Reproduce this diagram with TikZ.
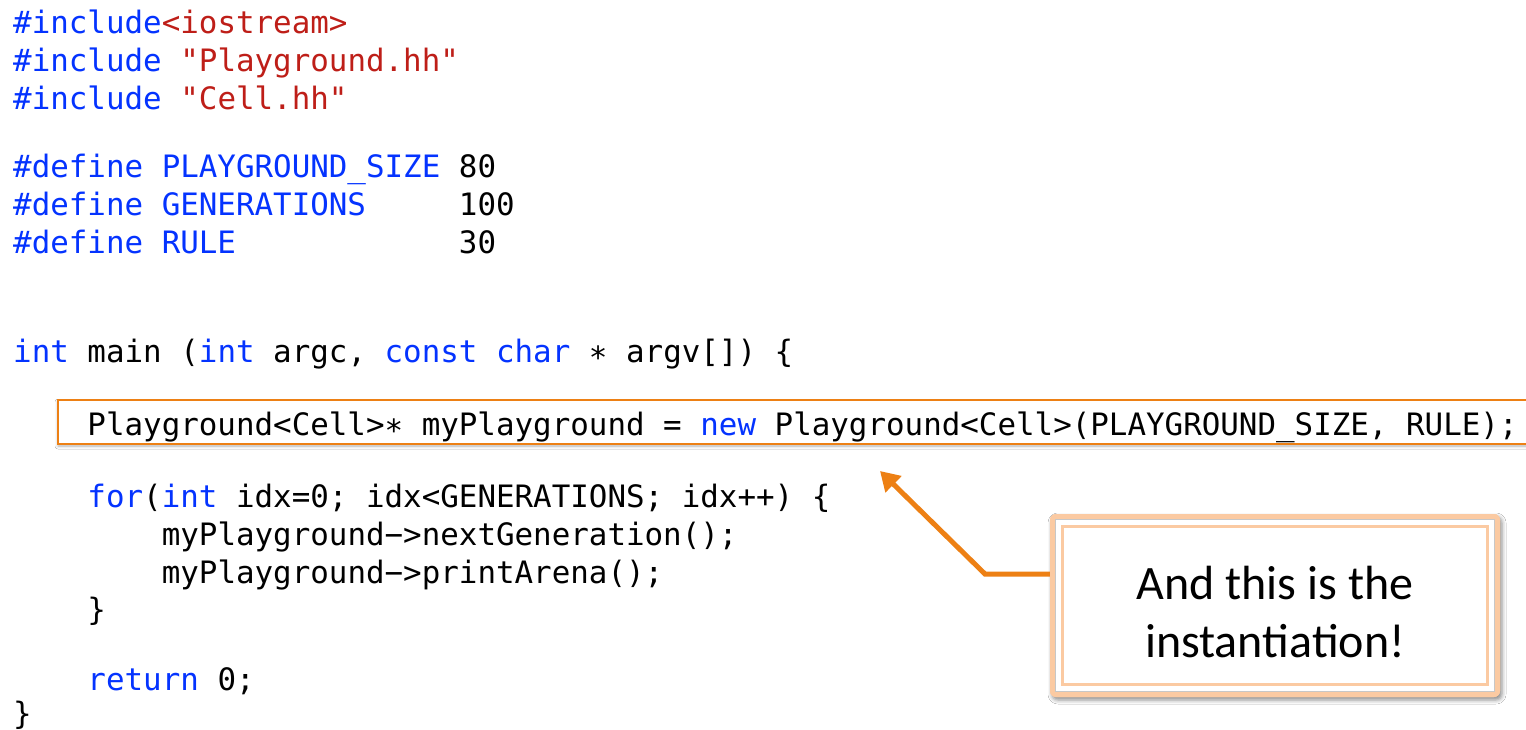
\documentclass[tikz,border=0pt]{standalone}
\usepackage{fontspec}
\setmonofont{DejaVu Sans Mono}
\newfontfamily\calloutfont{Carlito}
\usetikzlibrary{shadows.blur,arrows.meta,calc}
\definecolor{kwblue}{RGB}{4,51,255}
\definecolor{strred}{RGB}{190,30,24}
\definecolor{hlorange}{RGB}{237,128,20}
\definecolor{peach}{RGB}{251,202,162}
\newcommand\kw[1]{\textcolor{kwblue}{#1}}
\newcommand\str[1]{\textcolor{strred}{#1}}
\tikzset{
  code/.style={anchor=base west, inner sep=0pt, text=black,
    font=\ttfamily\fontsize{30.85}{38}\selectfont},
  hlbox/.style={draw=hlorange, line width=2pt, fill=white, anchor=north west,
    inner sep=0pt, minimum width=1490pt, minimum height=44pt,
    blur shadow={shadow xshift=0pt, shadow yshift=-2pt,
      shadow blur radius=3pt, shadow opacity=30}},
  noteshape/.style={fill=peach, draw=none, rounded corners=6pt,
    minimum width=450pt, minimum height=183pt, inner sep=0pt},
  notebox/.style={noteshape,
    blur shadow={shadow xshift=2pt, shadow yshift=-3pt,
      shadow blur radius=4pt, shadow opacity=45}},
  notetext/.style={align=center, inner sep=0pt, text=black,
    font=\calloutfont\fontsize{48}{57.6}\selectfont},
  callarrow/.style={draw=hlorange, line width=5pt, line join=miter,
    -{Triangle[length=19pt,width=22pt]}},
}
\begin{document}
\begin{tikzpicture}[x=1pt, y=-1pt]
  \useasboundingbox (0,0) rectangle (1526,729);
  \clip (0,0) rectangle (1526,729);
  \fill[white] (0,0) rectangle (1526,729);

  % highlighted statement
  \node[hlbox] (hl) at (57,399) {};

  % source listing
  \node[code] (l1)  at (13,33)  {\kw{\#include}\str{<iostream>}};
  \node[code] (l2)  at (13,71)  {\kw{\#include} \str{"Playground.hh"}};
  \node[code] (l3)  at (13,109) {\kw{\#include} \str{"Cell.hh"}};
  \node[code] (l4)  at (13,177) {\kw{\#define PLAYGROUND\_SIZE} 80};
  \node[code] (l5)  at (13,215) {\kw{\#define GENERATIONS}~~~~~100};
  \node[code] (l6)  at (13,253) {\kw{\#define RULE}~~~~~~~~~~~~30};
  \node[code] (l7)  at (13,362) {\kw{int} main (\kw{int} argc, \kw{const} \kw{char} ∗ argv[]) \{};
  \node[code] (l8)  at (13,435) {~~~~Playground<Cell>∗ myPlayground = \kw{new} Playground<Cell>(PLAYGROUND\_SIZE, RULE);};
  \node[code] (l9)  at (13,507) {~~~~\kw{for}(\kw{int} idx=0; idx<GENERATIONS; idx++) \{};
  \node[code] (l10) at (13,545) {~~~~~~~~myPlayground−>nextGeneration();};
  \node[code] (l11) at (13,583) {~~~~~~~~myPlayground−>printArena();};
  \node[code] (l12) at (13,620) {~~~~\}};
  \node[code] (l13) at (13,690) {~~~~\kw{return} 0;};
  \node[code] (l14) at (13,724) {\}};

  % callout box and its pointer
  \coordinate (elbow) at (985,574);
  \coordinate (tip) at (880,471);
  \node[notebox] (note) at (1275,605.5) {};
  \draw[callarrow] (note.west |- elbow) -- (elbow) -- (tip);
  \node[noteshape] at (note.center) {};
  \draw[black!22, line width=0.8pt]
    ($(note.north west)+(5.5,5.5)$) rectangle ($(note.south east)+(-5.5,-5.5)$);
  \fill[white]
    ($(note.north west)+(6,6)$) rectangle ($(note.south east)+(-6,-6)$);
  \draw[peach, line width=2.5pt]
    ($(note.north west)+(12.5,12.5)$) rectangle ($(note.south east)+(-12.5,-12.5)$);
  \node[notetext] (label) at (1275,612) {And this is the\\instantiation!};
\end{tikzpicture}
\end{document}
